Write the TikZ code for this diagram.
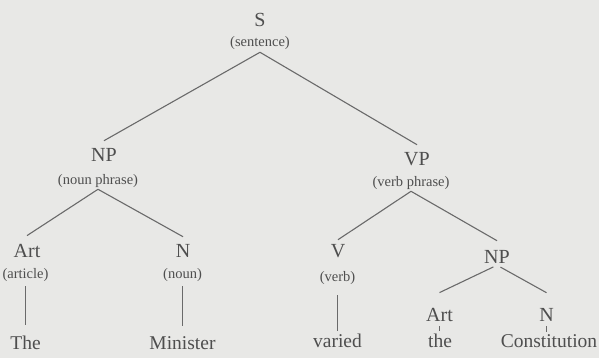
\documentclass[tikz,border=0pt]{standalone}
\usepackage{fontspec}
\setmainfont{Liberation Serif}
\definecolor{paper}{HTML}{E8E8E6}
\definecolor{ink}{HTML}{4E4E4E}
\definecolor{rule}{HTML}{6A6A6A}
\begin{document}
\begin{tikzpicture}[x=1pt,y=-1pt,
  cat/.style={anchor=base,inner sep=2pt,text=ink,font=\fontsize{20}{22}\selectfont},
  gloss/.style={anchor=base,inner sep=2pt,text=ink,font=\fontsize{14.5}{16}\selectfont},
  word/.style={anchor=base,inner sep=2pt,text=ink,font=\fontsize{19.5}{22}\selectfont},
  branch/.style={draw=rule,line width=1.1pt}]
\fill[paper] (0,0) rectangle (599,358);
\useasboundingbox (0,0) rectangle (599,358);
% top
\node[cat] (S) at (260,27) {S};
\node[gloss] (Sg) at (260,47) {(sentence)};
\node[cat] (NP) at (104,162) {NP};
\node[gloss] (NPg) at (98,184) {(noun phrase)};
\node[cat] (VP) at (417,165) {VP};
\node[gloss] (VPg) at (411,186) {(verb phrase)};
% left NP
\node[cat] (Art) at (27,257) {Art};
\node[gloss] (Artg) at (25.5,278) {(article)};
\node[cat] (N) at (183,257) {N};
\node[gloss] (Ng) at (182.5,278) {(noun)};
\node[word] (The) at (25.5,349) {The};
\node[word] (Min) at (182.5,349) {Minister};
% VP
\node[cat] (V) at (338,257) {V};
\node[gloss] (Vg) at (337.5,281) {(verb)};
\node[cat] (NP2) at (497,263) {NP};
\node[cat] (Art2) at (439.5,321) {Art};
\node[cat] (N2) at (546.5,321) {N};
\node[word] (var) at (337.5,347) {varied};
\node[word] (the) at (440,347) {the};
\node[word] (Con) at (549,347) {Constitution};
% branches
\draw[branch] (Sg.south) -- ([yshift=6pt]NP.north);
\draw[branch] (Sg.south) -- ([yshift=5pt]VP.north);
\draw[branch] (NPg.south) -- ([yshift=6pt]Art.north);
\draw[branch] (NPg.south) -- ([yshift=5pt]N.north);
\draw[branch, shorten <=3pt, shorten >=8pt] (Artg.south) -- (Artg.south |- The.north);
\draw[branch, shorten <=3pt, shorten >=8pt] (Ng.south) -- (Ng.south |- Min.north);
\draw[branch] (VPg.south) -- ([yshift=2pt]V.north);
\draw[branch] (VPg.south) -- ([yshift=7pt]NP2.north);
\draw[branch, shorten <=9pt] (Vg.south) -- (Vg.south |- var.north);
\draw[branch, shorten <=4pt] (NP2.south) -- ([yshift=13pt]Art2.north);
\draw[branch, shorten <=4pt] (NP2.south) -- ([yshift=13pt]N2.north);
\draw[branch, shorten <=3pt] (Art2.south) -- (Art2.south |- the.north);
\draw[branch, shorten <=3pt] (N2.south) -- (N2.south |- Con.north);
\end{tikzpicture}
\end{document}
